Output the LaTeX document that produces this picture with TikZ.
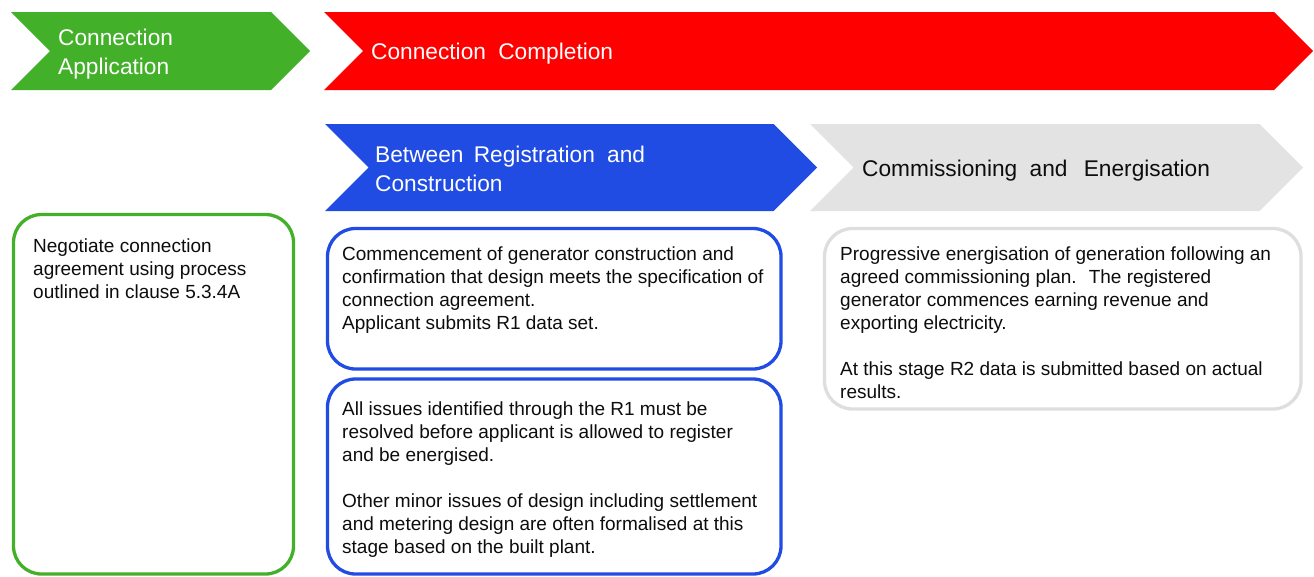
\documentclass[tikz,border=0pt]{standalone}
\usepackage{fontspec}
\setmainfont{Liberation Sans}
\definecolor{cgreen}{RGB}{67,176,42}
\definecolor{cred}{RGB}{255,0,0}
\definecolor{cblue}{RGB}{33,76,228}
\definecolor{cgray}{RGB}{227,227,227}
\definecolor{cgrayline}{RGB}{222,222,222}
\definecolor{ctext}{RGB}{13,13,13}
\tikzset{
  head/.style={anchor=north west,inner sep=0pt,align=left,font=\fontsize{22.7}{29}\selectfont},
  body/.style={anchor=north west,inner sep=0pt,align=left,text=ctext,font=\fontsize{19}{23}\selectfont},
  card/.style={line width=3.3pt,rounded corners=28pt,fill=white},
}
% chevron: name, x-left, x-tip, y-top, y-bottom, colour
\newcommand{\mychev}[6]{%
  \pgfmathsetmacro{\dd}{(#5-#4)/2}%
  \fill[#6] (#2,#4) -- ({#3-\dd},#4) -- (#3,{#4+\dd}) -- ({#3-\dd},#5) -- (#2,#5) -- ({#2+\dd},{#4+\dd}) -- cycle;
  \coordinate (#1) at ({#2+\dd},{#4+\dd});}
\begin{document}
\begin{tikzpicture}[x=1pt,y=-1pt]
\useasboundingbox (0,0) rectangle (1314,576);
% chevrons
\mychev{chA}{11}{310}{12}{90}{cgreen}
\mychev{chB}{324}{1313}{12}{90}{cred}
\mychev{chC}{325}{817}{124}{211}{cblue}
\mychev{chD}{810}{1303}{124}{211}{cgray}
\node[head,text=white] (tA) at (58,29) {Connection\\Application};
\node[head,text=white] (tB) at (371,43) {Connection\hspace{6pt} Completion};
\node[head,text=white] (tC) at (375,146) {Between\hspace{4pt} Registration\hspace{6pt} and\\Construction};
\node[head,text=ctext] (tD) at (862,160) {Commissioning\hspace{6pt} and\hspace{10pt} Energisation};
% cards
\draw[card,draw=cgreen] (13.5,214.5) rectangle (293.5,574);
\draw[card,draw=cblue] (327.5,228.5) rectangle (781,369);
\draw[card,draw=cblue] (327.5,379) rectangle (781,574);
\draw[card,draw=cgrayline] (824.5,228.5) rectangle (1301,409);
\node[body] (bA) at (33,239) {Negotiate connection\\agreement using process\\outlined in clause 5.3.4A};
\node[body] (bB) at (342,247) {Commencement of generator construction and\\confirmation that design meets the specification of\\connection agreement.\\Applicant submits R1 data set.};
\node[body] (bC) at (342,402) {All issues identified through the R1 must be\\resolved before applicant is allowed to register\\and be energised.\\[23pt]Other minor issues of design including settlement\\and metering design are often formalised at this\\stage based on the built plant.};
\node[body] (bD) at (840,247) {Progressive energisation of generation following an\\agreed commissioning plan.\hspace{5pt} The registered\\generator commences earning revenue and\\exporting electricity.\\[23pt]At this stage R2 data is submitted based on actual\\results.};
\end{tikzpicture}
\end{document}
